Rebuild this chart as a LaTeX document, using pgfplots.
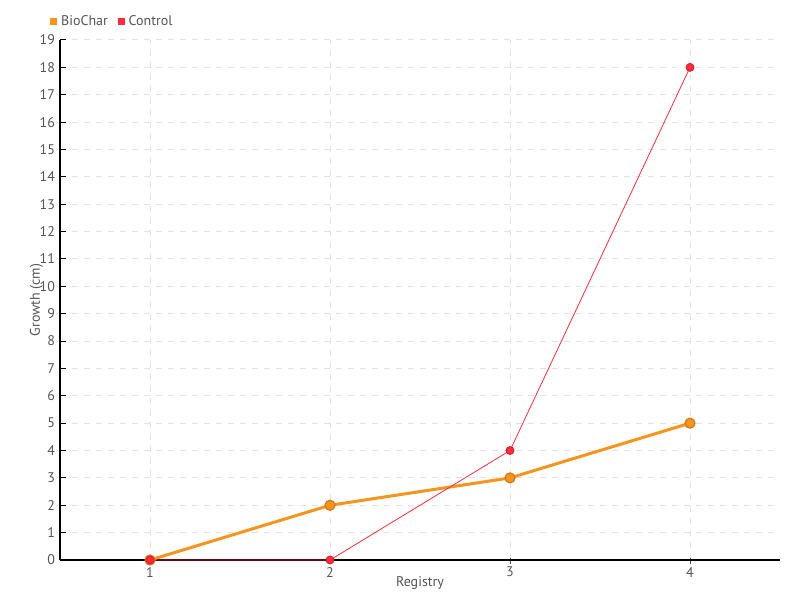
\documentclass[border=0pt]{standalone}
\usepackage{pgfplots}
\pgfplotsset{compat=1.18}
\usepackage{fontspec}
\setmainfont{PT Sans}
\definecolor{orangeC}{HTML}{F7941D}
\definecolor{orangeD}{HTML}{D9751A}
\definecolor{redC}{HTML}{FF2D3C}
\definecolor{redD}{HTML}{D81B28}
\definecolor{txt}{HTML}{555555}
\definecolor{gridc}{HTML}{E2E2E2}
\begin{document}
\begin{tikzpicture}[font=\fontsize{7}{8}\selectfont]
\begin{axis}[
  scale only axis, width=360pt, height=260pt,
  xmin=0.5, xmax=4.5, ymin=0, ymax=19,
  axis x line*=bottom, axis y line*=left,
  axis line style={black, line width=0.6pt, -},
  xtick={1,2,3,4}, ytick={0,1,...,19},
  grid=major, major grid style={gridc, dashed, line width=0.5pt},
  tick label style={txt},
  yticklabel style={xshift=1pt},
  /pgf/number format/assume math mode=true,
  xtick style={txt, line width=0.5pt, yshift=-2pt},
  ytick style={black, line width=0.5pt},
  major tick length=3pt,
  xlabel={Registry}, ylabel={Growth (cm)},
  label style={txt},
  xlabel style={yshift=7pt},
  ylabel style={yshift=-8.5pt},
  legend style={at={(-0.014,1.035)}, anchor=west, draw=none, fill=none,
    font=\fontsize{7}{8}\selectfont\color{txt}, inner sep=0pt,
    /tikz/every even column/.append style={column sep=3pt}},
  legend columns=2,
  legend cell align=left,
]
\addlegendimage{legend image code/.code={\fill[orangeC] (0pt,-1.5pt) rectangle (3pt,1.5pt);}}
\addlegendentry{BioChar}
\addlegendimage{legend image code/.code={\fill[redC] (0pt,-1.5pt) rectangle (3pt,1.5pt);}}
\addlegendentry{Control}
\addplot[orangeC, line width=1.5pt, mark=*, mark size=2.5pt, mark options={fill=orangeC, draw=orangeD, line width=0.6pt}, forget plot]
  coordinates {(1,0) (2,2) (3,3) (4,5)};
\addplot[redC, line width=0.4pt, mark=*, mark size=2pt, mark options={fill=redC, draw=redD, line width=0.4pt}, forget plot]
  coordinates {(1,0) (2,0) (3,4) (4,18)};
\end{axis}
\path[use as bounding box] ([xshift=-30pt,yshift=-20pt]current axis.south west) rectangle ([xshift=10pt,yshift=20pt]current axis.north east);
\end{tikzpicture}
\end{document}
